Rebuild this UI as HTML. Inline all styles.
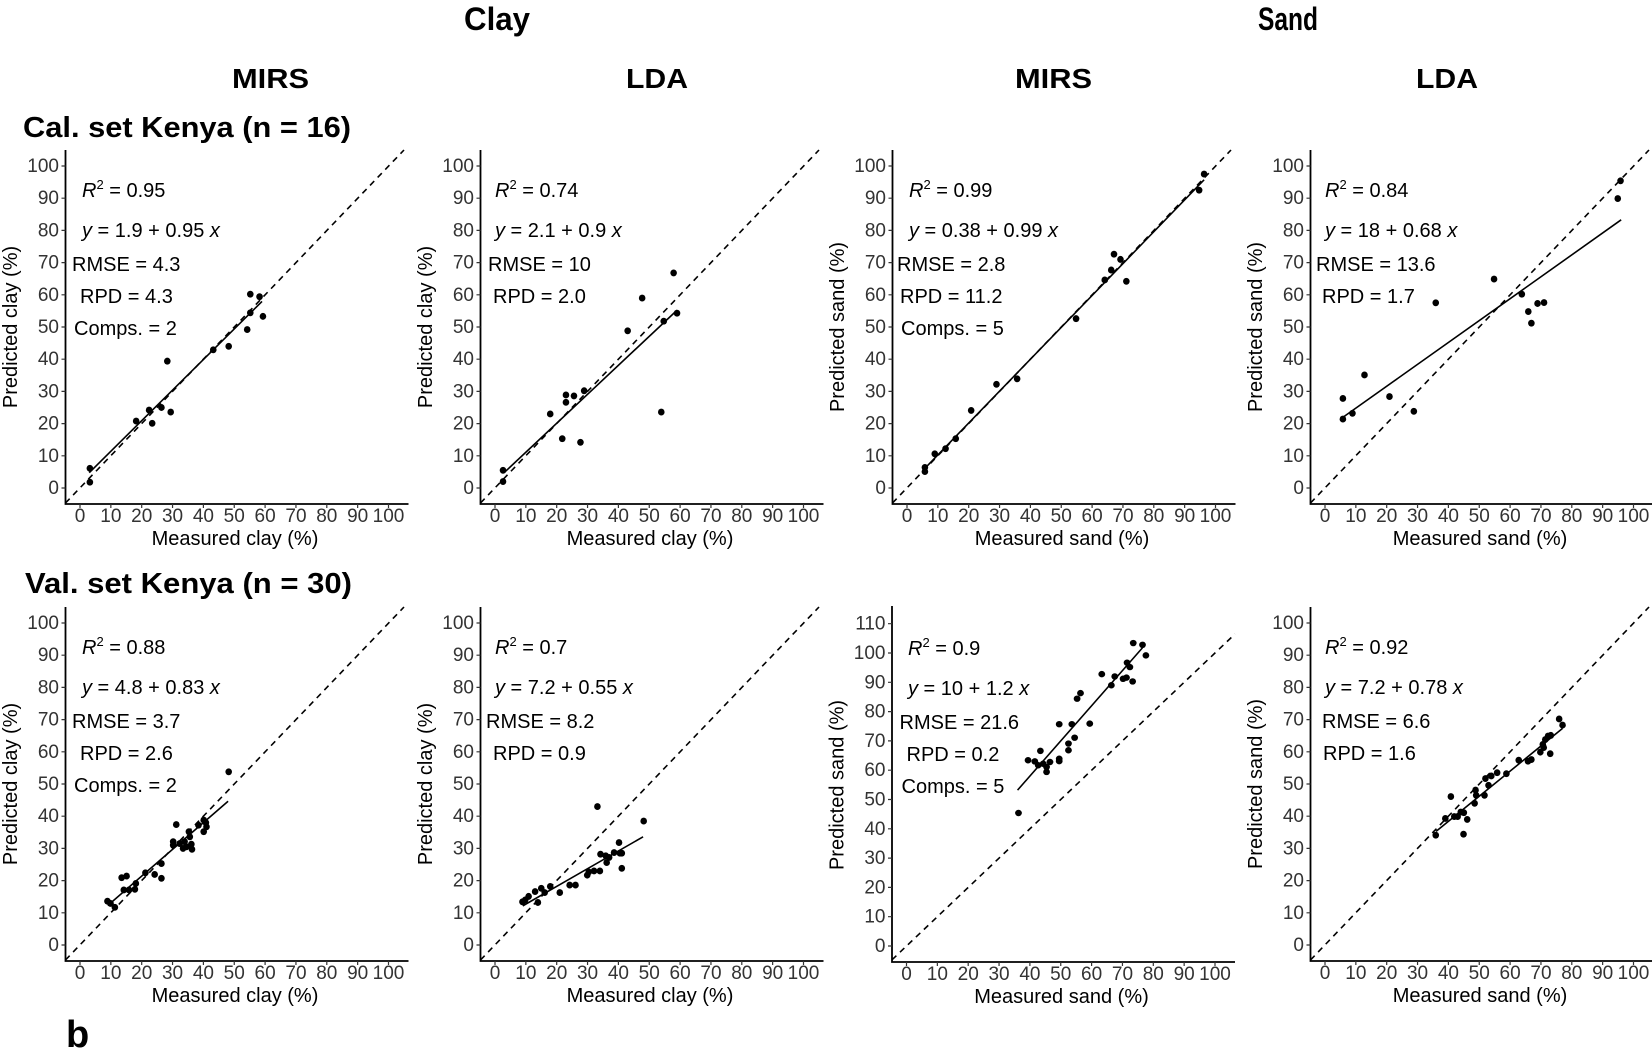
<!DOCTYPE html>
<html><head><meta charset="utf-8"><style>
html,body{margin:0;padding:0;background:#fff;}
svg{display:block;font-family:"Liberation Sans",Arial,sans-serif;}
.ax{fill:none;stroke:#000;stroke-width:1.8}
.tk{fill:none;stroke:#333;stroke-width:1.2}
.yl{font-size:19px;fill:#333;text-anchor:end}
.xl{font-size:19px;fill:#333;text-anchor:middle}
.tt{font-size:20px;fill:#000}
.an{font-size:20px;fill:#000}
.dl{fill:none;stroke:#000;stroke-width:1.6;stroke-dasharray:6 5}
.rl{stroke:#000;stroke-width:1.6;vector-effect:non-scaling-stroke}
.pt circle{fill:#000}
.hd{font-weight:bold;fill:#000}
</style></head><body>
<svg width="1652" height="1053" viewBox="0 0 1652 1053" xmlns="http://www.w3.org/2000/svg">
<rect width="1652" height="1053" fill="#fff"/>
<text class="hd" x="464" y="30" font-size="32" textLength="66" lengthAdjust="spacingAndGlyphs">Clay</text>
<text class="hd" x="1258" y="30" font-size="32" textLength="60" lengthAdjust="spacingAndGlyphs">Sand</text>
<text class="hd" x="232" y="88" font-size="28" textLength="77" lengthAdjust="spacingAndGlyphs">MIRS</text>
<text class="hd" x="626" y="88" font-size="28" textLength="62" lengthAdjust="spacingAndGlyphs">LDA</text>
<text class="hd" x="1015" y="88" font-size="28" textLength="77" lengthAdjust="spacingAndGlyphs">MIRS</text>
<text class="hd" x="1416" y="88" font-size="28" textLength="62" lengthAdjust="spacingAndGlyphs">LDA</text>
<text class="hd" x="23" y="137" font-size="29" textLength="328" lengthAdjust="spacingAndGlyphs">Cal. set Kenya (n = 16)</text>
<text class="hd" x="25" y="593" font-size="29" textLength="327" lengthAdjust="spacingAndGlyphs">Val. set Kenya (n = 30)</text>
<text class="hd" x="66" y="1047" font-size="38">b</text>

<!-- ============ P1 ============ -->
<g transform="translate(80,488)">
<path class="ax" d="M-14.5,-338V16H328.5"/>
<path class="tk" d="M-18.5,0h4M-18.5,-32.2h4M-18.5,-64.4h4M-18.5,-96.6h4M-18.5,-128.8h4M-18.5,-161h4M-18.5,-193.2h4M-18.5,-225.4h4M-18.5,-257.6h4M-18.5,-289.8h4M-18.5,-322h4M0,16v4M30.85,16v4M61.7,16v4M92.55,16v4M123.4,16v4M154.25,16v4M185.1,16v4M215.95,16v4M246.8,16v4M277.65,16v4M308.5,16v4"/>
<text class="yl" x="-21" y="6">0</text><text class="yl" x="-21" y="-26.2">10</text><text class="yl" x="-21" y="-58.4">20</text><text class="yl" x="-21" y="-90.6">30</text><text class="yl" x="-21" y="-122.8">40</text><text class="yl" x="-21" y="-155">50</text><text class="yl" x="-21" y="-187.2">60</text><text class="yl" x="-21" y="-219.4">70</text><text class="yl" x="-21" y="-251.6">80</text><text class="yl" x="-21" y="-283.8">90</text><text class="yl" x="-21" y="-316">100</text>
<text class="xl" x="0" y="34">0</text><text class="xl" x="30.85" y="34">10</text><text class="xl" x="61.7" y="34">20</text><text class="xl" x="92.55" y="34">30</text><text class="xl" x="123.4" y="34">40</text><text class="xl" x="154.25" y="34">50</text><text class="xl" x="185.1" y="34">60</text><text class="xl" x="215.95" y="34">70</text><text class="xl" x="246.8" y="34">80</text><text class="xl" x="277.65" y="34">90</text><text class="xl" x="308.5" y="34">100</text>
<text class="tt" x="155" y="57" text-anchor="middle">Measured clay (%)</text>
<text class="tt" transform="translate(-63,-161) rotate(-90)" text-anchor="middle">Predicted clay (%)</text>
<path class="dl" d="M-14.5,15L324,-338"/>
<text class="an" x="2" y="-291"><tspan font-style="italic">R</tspan><tspan font-size="13" dy="-8">2</tspan><tspan dy="8"> = 0.95</tspan></text>
<text class="an" x="2" y="-251"><tspan font-style="italic">y</tspan> = 1.9 + 0.95 <tspan font-style="italic">x</tspan></text>
<text class="an" x="-8" y="-217">RMSE = 4.3</text>
<text class="an" x="0" y="-185">RPD = 4.3</text>
<text class="an" x="-6" y="-153">Comps. = 2</text>
<g class="pt" transform="scale(3.085,-3.22)">
<line class="rl" x1="3" y1="4.75" x2="59" y2="57.95"/>
<circle cx="3.2" cy="6.1" r="1.07"/><circle cx="3.2" cy="1.8" r="1.07"/><circle cx="18.2" cy="20.8" r="1.07"/><circle cx="22.4" cy="24.2" r="1.07"/><circle cx="23.4" cy="20.1" r="1.07"/><circle cx="26.4" cy="25" r="1.07"/><circle cx="28.3" cy="39.4" r="1.07"/><circle cx="29.4" cy="23.6" r="1.07"/><circle cx="43.2" cy="42.9" r="1.07"/><circle cx="48.2" cy="44" r="1.07"/><circle cx="54.2" cy="49.2" r="1.07"/><circle cx="55.2" cy="60.2" r="1.07"/><circle cx="55.2" cy="54.4" r="1.07"/><circle cx="58.2" cy="59.4" r="1.07"/><circle cx="59.3" cy="53.3" r="1.07"/>
</g>
</g>

<!-- ============ P2 ============ -->
<g transform="translate(495,488)">
<path class="ax" d="M-14.5,-338V16H328.5"/>
<path class="tk" d="M-18.5,0h4M-18.5,-32.2h4M-18.5,-64.4h4M-18.5,-96.6h4M-18.5,-128.8h4M-18.5,-161h4M-18.5,-193.2h4M-18.5,-225.4h4M-18.5,-257.6h4M-18.5,-289.8h4M-18.5,-322h4M0,16v4M30.85,16v4M61.7,16v4M92.55,16v4M123.4,16v4M154.25,16v4M185.1,16v4M215.95,16v4M246.8,16v4M277.65,16v4M308.5,16v4"/>
<text class="yl" x="-21" y="6">0</text><text class="yl" x="-21" y="-26.2">10</text><text class="yl" x="-21" y="-58.4">20</text><text class="yl" x="-21" y="-90.6">30</text><text class="yl" x="-21" y="-122.8">40</text><text class="yl" x="-21" y="-155">50</text><text class="yl" x="-21" y="-187.2">60</text><text class="yl" x="-21" y="-219.4">70</text><text class="yl" x="-21" y="-251.6">80</text><text class="yl" x="-21" y="-283.8">90</text><text class="yl" x="-21" y="-316">100</text>
<text class="xl" x="0" y="34">0</text><text class="xl" x="30.85" y="34">10</text><text class="xl" x="61.7" y="34">20</text><text class="xl" x="92.55" y="34">30</text><text class="xl" x="123.4" y="34">40</text><text class="xl" x="154.25" y="34">50</text><text class="xl" x="185.1" y="34">60</text><text class="xl" x="215.95" y="34">70</text><text class="xl" x="246.8" y="34">80</text><text class="xl" x="277.65" y="34">90</text><text class="xl" x="308.5" y="34">100</text>
<text class="tt" x="155" y="57" text-anchor="middle">Measured clay (%)</text>
<text class="tt" transform="translate(-63,-161) rotate(-90)" text-anchor="middle">Predicted clay (%)</text>
<path class="dl" d="M-14.5,15L324,-338"/>
<text class="an" x="0" y="-291"><tspan font-style="italic">R</tspan><tspan font-size="13" dy="-8">2</tspan><tspan dy="8"> = 0.74</tspan></text>
<text class="an" x="0" y="-251"><tspan font-style="italic">y</tspan> = 2.1 + 0.9 <tspan font-style="italic">x</tspan></text>
<text class="an" x="-7" y="-217">RMSE = 10</text>
<text class="an" x="-2" y="-185">RPD = 2.0</text>
<g class="pt" transform="scale(3.085,-3.22)">
<line class="rl" x1="3" y1="4.8" x2="59" y2="55.2"/>
<circle cx="2.6" cy="5.5" r="1.07"/><circle cx="2.6" cy="2" r="1.07"/><circle cx="17.9" cy="23" r="1.07"/><circle cx="21.8" cy="15.3" r="1.07"/><circle cx="23" cy="28.9" r="1.07"/><circle cx="23" cy="26.6" r="1.07"/><circle cx="25.6" cy="28.6" r="1.07"/><circle cx="27.7" cy="14.2" r="1.07"/><circle cx="28.9" cy="30.2" r="1.07"/><circle cx="43" cy="48.8" r="1.07"/><circle cx="47.7" cy="59" r="1.07"/><circle cx="53.9" cy="23.6" r="1.07"/><circle cx="54.7" cy="51.8" r="1.07"/><circle cx="57.9" cy="66.8" r="1.07"/><circle cx="59" cy="54.3" r="1.07"/>
</g>
</g>

<!-- ============ P3 ============ -->
<g transform="translate(907,488)">
<path class="ax" d="M-14.5,-338V16H328.5"/>
<path class="tk" d="M-18.5,0h4M-18.5,-32.2h4M-18.5,-64.4h4M-18.5,-96.6h4M-18.5,-128.8h4M-18.5,-161h4M-18.5,-193.2h4M-18.5,-225.4h4M-18.5,-257.6h4M-18.5,-289.8h4M-18.5,-322h4M0,16v4M30.85,16v4M61.7,16v4M92.55,16v4M123.4,16v4M154.25,16v4M185.1,16v4M215.95,16v4M246.8,16v4M277.65,16v4M308.5,16v4"/>
<text class="yl" x="-21" y="6">0</text><text class="yl" x="-21" y="-26.2">10</text><text class="yl" x="-21" y="-58.4">20</text><text class="yl" x="-21" y="-90.6">30</text><text class="yl" x="-21" y="-122.8">40</text><text class="yl" x="-21" y="-155">50</text><text class="yl" x="-21" y="-187.2">60</text><text class="yl" x="-21" y="-219.4">70</text><text class="yl" x="-21" y="-251.6">80</text><text class="yl" x="-21" y="-283.8">90</text><text class="yl" x="-21" y="-316">100</text>
<text class="xl" x="0" y="34">0</text><text class="xl" x="30.85" y="34">10</text><text class="xl" x="61.7" y="34">20</text><text class="xl" x="92.55" y="34">30</text><text class="xl" x="123.4" y="34">40</text><text class="xl" x="154.25" y="34">50</text><text class="xl" x="185.1" y="34">60</text><text class="xl" x="215.95" y="34">70</text><text class="xl" x="246.8" y="34">80</text><text class="xl" x="277.65" y="34">90</text><text class="xl" x="308.5" y="34">100</text>
<text class="tt" x="155" y="57" text-anchor="middle">Measured sand (%)</text>
<text class="tt" transform="translate(-63,-161) rotate(-90)" text-anchor="middle">Predicted sand (%)</text>
<path class="dl" d="M-14.5,15L324,-338"/>
<text class="an" x="2" y="-291"><tspan font-style="italic">R</tspan><tspan font-size="13" dy="-8">2</tspan><tspan dy="8"> = 0.99</tspan></text>
<text class="an" x="2" y="-251"><tspan font-style="italic">y</tspan> = 0.38 + 0.99 <tspan font-style="italic">x</tspan></text>
<text class="an" x="-10" y="-217">RMSE = 2.8</text>
<text class="an" x="-7" y="-185">RPD = 11.2</text>
<text class="an" x="-6" y="-153">Comps. = 5</text>
<g class="pt" transform="scale(3.085,-3.22)">
<line class="rl" x1="5.8" y1="6.12" x2="96.3" y2="95.72"/>
<circle cx="5.8" cy="5.1" r="1.07"/><circle cx="5.8" cy="6.4" r="1.07"/><circle cx="9" cy="10.6" r="1.07"/><circle cx="12.5" cy="12.2" r="1.07"/><circle cx="15.8" cy="15.3" r="1.07"/><circle cx="20.8" cy="24.1" r="1.07"/><circle cx="29" cy="32.2" r="1.07"/><circle cx="35.7" cy="33.9" r="1.07"/><circle cx="54.8" cy="52.6" r="1.07"/><circle cx="64.1" cy="64.6" r="1.07"/><circle cx="66.2" cy="67.7" r="1.07"/><circle cx="67.1" cy="72.6" r="1.07"/><circle cx="69.2" cy="71" r="1.07"/><circle cx="71.1" cy="64.2" r="1.07"/><circle cx="94.7" cy="92.5" r="1.07"/><circle cx="96.3" cy="97.5" r="1.07"/>
</g>
</g>

<!-- ============ P4 ============ -->
<g transform="translate(1325,488)">
<path class="ax" d="M-14.5,-338V16H328.5"/>
<path class="tk" d="M-18.5,0h4M-18.5,-32.2h4M-18.5,-64.4h4M-18.5,-96.6h4M-18.5,-128.8h4M-18.5,-161h4M-18.5,-193.2h4M-18.5,-225.4h4M-18.5,-257.6h4M-18.5,-289.8h4M-18.5,-322h4M0,16v4M30.85,16v4M61.7,16v4M92.55,16v4M123.4,16v4M154.25,16v4M185.1,16v4M215.95,16v4M246.8,16v4M277.65,16v4M308.5,16v4"/>
<text class="yl" x="-21" y="6">0</text><text class="yl" x="-21" y="-26.2">10</text><text class="yl" x="-21" y="-58.4">20</text><text class="yl" x="-21" y="-90.6">30</text><text class="yl" x="-21" y="-122.8">40</text><text class="yl" x="-21" y="-155">50</text><text class="yl" x="-21" y="-187.2">60</text><text class="yl" x="-21" y="-219.4">70</text><text class="yl" x="-21" y="-251.6">80</text><text class="yl" x="-21" y="-283.8">90</text><text class="yl" x="-21" y="-316">100</text>
<text class="xl" x="0" y="34">0</text><text class="xl" x="30.85" y="34">10</text><text class="xl" x="61.7" y="34">20</text><text class="xl" x="92.55" y="34">30</text><text class="xl" x="123.4" y="34">40</text><text class="xl" x="154.25" y="34">50</text><text class="xl" x="185.1" y="34">60</text><text class="xl" x="215.95" y="34">70</text><text class="xl" x="246.8" y="34">80</text><text class="xl" x="277.65" y="34">90</text><text class="xl" x="308.5" y="34">100</text>
<text class="tt" x="155" y="57" text-anchor="middle">Measured sand (%)</text>
<text class="tt" transform="translate(-63,-161) rotate(-90)" text-anchor="middle">Predicted sand (%)</text>
<path class="dl" d="M-14.5,15L324,-338"/>
<text class="an" x="0" y="-291"><tspan font-style="italic">R</tspan><tspan font-size="13" dy="-8">2</tspan><tspan dy="8"> = 0.84</tspan></text>
<text class="an" x="0" y="-251"><tspan font-style="italic">y</tspan> = 18 + 0.68 <tspan font-style="italic">x</tspan></text>
<text class="an" x="-9" y="-217">RMSE = 13.6</text>
<text class="an" x="-3" y="-185">RPD = 1.7</text>
<g class="pt" transform="scale(3.085,-3.22)">
<line class="rl" x1="6" y1="22.08" x2="96" y2="83.28"/>
<circle cx="5.8" cy="27.8" r="1.07"/><circle cx="5.8" cy="21.4" r="1.07"/><circle cx="8.9" cy="23.2" r="1.07"/><circle cx="12.8" cy="35.1" r="1.07"/><circle cx="20.9" cy="28.4" r="1.07"/><circle cx="28.8" cy="23.8" r="1.07"/><circle cx="35.9" cy="57.5" r="1.07"/><circle cx="54.8" cy="64.9" r="1.07"/><circle cx="63.8" cy="60.2" r="1.07"/><circle cx="65.9" cy="54.8" r="1.07"/><circle cx="66.9" cy="51.2" r="1.07"/><circle cx="68.9" cy="57.3" r="1.07"/><circle cx="71" cy="57.6" r="1.07"/><circle cx="94.9" cy="89.9" r="1.07"/><circle cx="95.8" cy="95.4" r="1.07"/>
</g>
</g>

<!-- ============ P5 ============ -->
<g transform="translate(80,945)">
<path class="ax" d="M-14.5,-338V16H328.5"/>
<path class="tk" d="M-18.5,0h4M-18.5,-32.2h4M-18.5,-64.4h4M-18.5,-96.6h4M-18.5,-128.8h4M-18.5,-161h4M-18.5,-193.2h4M-18.5,-225.4h4M-18.5,-257.6h4M-18.5,-289.8h4M-18.5,-322h4M0,16v4M30.85,16v4M61.7,16v4M92.55,16v4M123.4,16v4M154.25,16v4M185.1,16v4M215.95,16v4M246.8,16v4M277.65,16v4M308.5,16v4"/>
<text class="yl" x="-21" y="6">0</text><text class="yl" x="-21" y="-26.2">10</text><text class="yl" x="-21" y="-58.4">20</text><text class="yl" x="-21" y="-90.6">30</text><text class="yl" x="-21" y="-122.8">40</text><text class="yl" x="-21" y="-155">50</text><text class="yl" x="-21" y="-187.2">60</text><text class="yl" x="-21" y="-219.4">70</text><text class="yl" x="-21" y="-251.6">80</text><text class="yl" x="-21" y="-283.8">90</text><text class="yl" x="-21" y="-316">100</text>
<text class="xl" x="0" y="34">0</text><text class="xl" x="30.85" y="34">10</text><text class="xl" x="61.7" y="34">20</text><text class="xl" x="92.55" y="34">30</text><text class="xl" x="123.4" y="34">40</text><text class="xl" x="154.25" y="34">50</text><text class="xl" x="185.1" y="34">60</text><text class="xl" x="215.95" y="34">70</text><text class="xl" x="246.8" y="34">80</text><text class="xl" x="277.65" y="34">90</text><text class="xl" x="308.5" y="34">100</text>
<text class="tt" x="155" y="57" text-anchor="middle">Measured clay (%)</text>
<text class="tt" transform="translate(-63,-161) rotate(-90)" text-anchor="middle">Predicted clay (%)</text>
<path class="dl" d="M-14.5,15L324,-338"/>
<text class="an" x="2" y="-291"><tspan font-style="italic">R</tspan><tspan font-size="13" dy="-8">2</tspan><tspan dy="8"> = 0.88</tspan></text>
<text class="an" x="2" y="-251"><tspan font-style="italic">y</tspan> = 4.8 + 0.83 <tspan font-style="italic">x</tspan></text>
<text class="an" x="-8" y="-217">RMSE = 3.7</text>
<text class="an" x="0" y="-185">RPD = 2.6</text>
<text class="an" x="-6" y="-153">Comps. = 2</text>
<g class="pt" transform="scale(3.085,-3.22)">
<line class="rl" x1="9" y1="12.27" x2="48" y2="44.64"/>
<circle cx="8.9" cy="13.6" r="1.07"/><circle cx="9.9" cy="12.9" r="1.07"/><circle cx="11.3" cy="11.7" r="1.07"/><circle cx="13.5" cy="20.9" r="1.07"/><circle cx="15.1" cy="21.4" r="1.07"/><circle cx="14.2" cy="17.1" r="1.07"/><circle cx="15.9" cy="17.1" r="1.07"/><circle cx="17.8" cy="17.3" r="1.07"/><circle cx="18.1" cy="19.1" r="1.07"/><circle cx="21.2" cy="22.4" r="1.07"/><circle cx="24.2" cy="21.9" r="1.07"/><circle cx="26.4" cy="20.7" r="1.07"/><circle cx="26.4" cy="25.3" r="1.07"/><circle cx="30.2" cy="32.1" r="1.07"/><circle cx="30.2" cy="31" r="1.07"/><circle cx="31.2" cy="37.4" r="1.07"/><circle cx="32.3" cy="31.5" r="1.07"/><circle cx="33.4" cy="30" r="1.07"/><circle cx="34.5" cy="30.5" r="1.07"/><circle cx="35.3" cy="35.2" r="1.07"/><circle cx="36.1" cy="31.3" r="1.07"/><circle cx="36.3" cy="29.7" r="1.07"/><circle cx="38.4" cy="37.2" r="1.07"/><circle cx="40.1" cy="38.8" r="1.07"/><circle cx="40.1" cy="35.2" r="1.07"/><circle cx="41" cy="36.7" r="1.07"/><circle cx="48.2" cy="53.8" r="1.07"/><circle cx="33.9" cy="32.1" r="1.07"/><circle cx="35.6" cy="33.6" r="1.07"/><circle cx="40.8" cy="38" r="1.07"/>
</g>
</g>

<!-- ============ P6 ============ -->
<g transform="translate(495,945)">
<path class="ax" d="M-14.5,-338V16H328.5"/>
<path class="tk" d="M-18.5,0h4M-18.5,-32.2h4M-18.5,-64.4h4M-18.5,-96.6h4M-18.5,-128.8h4M-18.5,-161h4M-18.5,-193.2h4M-18.5,-225.4h4M-18.5,-257.6h4M-18.5,-289.8h4M-18.5,-322h4M0,16v4M30.85,16v4M61.7,16v4M92.55,16v4M123.4,16v4M154.25,16v4M185.1,16v4M215.95,16v4M246.8,16v4M277.65,16v4M308.5,16v4"/>
<text class="yl" x="-21" y="6">0</text><text class="yl" x="-21" y="-26.2">10</text><text class="yl" x="-21" y="-58.4">20</text><text class="yl" x="-21" y="-90.6">30</text><text class="yl" x="-21" y="-122.8">40</text><text class="yl" x="-21" y="-155">50</text><text class="yl" x="-21" y="-187.2">60</text><text class="yl" x="-21" y="-219.4">70</text><text class="yl" x="-21" y="-251.6">80</text><text class="yl" x="-21" y="-283.8">90</text><text class="yl" x="-21" y="-316">100</text>
<text class="xl" x="0" y="34">0</text><text class="xl" x="30.85" y="34">10</text><text class="xl" x="61.7" y="34">20</text><text class="xl" x="92.55" y="34">30</text><text class="xl" x="123.4" y="34">40</text><text class="xl" x="154.25" y="34">50</text><text class="xl" x="185.1" y="34">60</text><text class="xl" x="215.95" y="34">70</text><text class="xl" x="246.8" y="34">80</text><text class="xl" x="277.65" y="34">90</text><text class="xl" x="308.5" y="34">100</text>
<text class="tt" x="155" y="57" text-anchor="middle">Measured clay (%)</text>
<text class="tt" transform="translate(-63,-161) rotate(-90)" text-anchor="middle">Predicted clay (%)</text>
<path class="dl" d="M-14.5,15L324,-338"/>
<text class="an" x="0" y="-291"><tspan font-style="italic">R</tspan><tspan font-size="13" dy="-8">2</tspan><tspan dy="8"> = 0.7</tspan></text>
<text class="an" x="0" y="-251"><tspan font-style="italic">y</tspan> = 7.2 + 0.55 <tspan font-style="italic">x</tspan></text>
<text class="an" x="-9" y="-217">RMSE = 8.2</text>
<text class="an" x="-2" y="-185">RPD = 0.9</text>
<g class="pt" transform="scale(3.085,-3.22)">
<line class="rl" x1="9" y1="12.15" x2="48" y2="33.6"/>
<circle cx="8.9" cy="13.4" r="1.07"/><circle cx="9.8" cy="14" r="1.07"/><circle cx="10.9" cy="15.1" r="1.07"/><circle cx="13" cy="16.6" r="1.07"/><circle cx="13.9" cy="13.2" r="1.07"/><circle cx="15" cy="17.6" r="1.07"/><circle cx="16.1" cy="16.3" r="1.07"/><circle cx="17.9" cy="18.2" r="1.07"/><circle cx="21" cy="16.3" r="1.07"/><circle cx="24.2" cy="18.6" r="1.07"/><circle cx="26.1" cy="18.6" r="1.07"/><circle cx="29.9" cy="21.7" r="1.07"/><circle cx="30.4" cy="22.7" r="1.07"/><circle cx="32.1" cy="23" r="1.07"/><circle cx="34" cy="23" r="1.07"/><circle cx="33.2" cy="43" r="1.07"/><circle cx="34.2" cy="28.2" r="1.07"/><circle cx="35.9" cy="27.7" r="1.07"/><circle cx="36.2" cy="25.6" r="1.07"/><circle cx="37" cy="27.2" r="1.07"/><circle cx="38.6" cy="28.7" r="1.07"/><circle cx="40.2" cy="31.8" r="1.07"/><circle cx="40.5" cy="28.5" r="1.07"/><circle cx="41.1" cy="23.8" r="1.07"/><circle cx="41.1" cy="28.5" r="1.07"/><circle cx="48.2" cy="38.5" r="1.07"/>
</g>
</g>

<!-- ============ P7 ============ -->
<g transform="translate(906.5,946)">
<path class="ax" d="M-14.5,-340V16H328.5"/>
<path class="tk" d="M-18.5,0h4M-18.5,-29.3h4M-18.5,-58.6h4M-18.5,-87.9h4M-18.5,-117.2h4M-18.5,-146.5h4M-18.5,-175.8h4M-18.5,-205.1h4M-18.5,-234.4h4M-18.5,-263.7h4M-18.5,-293h4M-18.5,-322.3h4M0,16v4M30.85,16v4M61.7,16v4M92.55,16v4M123.4,16v4M154.25,16v4M185.1,16v4M215.95,16v4M246.8,16v4M277.65,16v4M308.5,16v4"/>
<text class="yl" x="-21" y="6">0</text><text class="yl" x="-21" y="-23.3">10</text><text class="yl" x="-21" y="-52.6">20</text><text class="yl" x="-21" y="-81.9">30</text><text class="yl" x="-21" y="-111.2">40</text><text class="yl" x="-21" y="-140.5">50</text><text class="yl" x="-21" y="-169.8">60</text><text class="yl" x="-21" y="-199.1">70</text><text class="yl" x="-21" y="-228.4">80</text><text class="yl" x="-21" y="-257.7">90</text><text class="yl" x="-21" y="-287">100</text><text class="yl" x="-21" y="-316.3">110</text>
<text class="xl" x="0" y="34">0</text><text class="xl" x="30.85" y="34">10</text><text class="xl" x="61.7" y="34">20</text><text class="xl" x="92.55" y="34">30</text><text class="xl" x="123.4" y="34">40</text><text class="xl" x="154.25" y="34">50</text><text class="xl" x="185.1" y="34">60</text><text class="xl" x="215.95" y="34">70</text><text class="xl" x="246.8" y="34">80</text><text class="xl" x="277.65" y="34">90</text><text class="xl" x="308.5" y="34">100</text>
<text class="tt" x="155" y="57" text-anchor="middle">Measured sand (%)</text>
<text class="tt" transform="translate(-63,-161) rotate(-90)" text-anchor="middle">Predicted sand (%)</text>
<path class="dl" d="M-14.5,13.8L328.5,-312"/>
<text class="an" x="1.5" y="-291"><tspan font-style="italic">R</tspan><tspan font-size="13" dy="-8">2</tspan><tspan dy="8"> = 0.9</tspan></text>
<text class="an" x="1.5" y="-251"><tspan font-style="italic">y</tspan> = 10 + 1.2 <tspan font-style="italic">x</tspan></text>
<text class="an" x="-7" y="-217">RMSE = 21.6</text>
<text class="an" x="0" y="-185">RPD = 0.2</text>
<text class="an" x="-5" y="-153">Comps. = 5</text>
<g class="pt" transform="scale(3.085,-2.93)">
<line class="rl" x1="36" y1="53.2" x2="76.5" y2="101.8"/>
<circle cx="36.3" cy="45.4" r="1.1"/><circle cx="39.4" cy="63.4" r="1.1"/><circle cx="41.6" cy="63" r="1.1"/><circle cx="43.4" cy="66.6" r="1.1"/><circle cx="42.7" cy="61.7" r="1.1"/><circle cx="44.3" cy="62.2" r="1.1"/><circle cx="45.4" cy="59.4" r="1.1"/><circle cx="45.4" cy="61.1" r="1.1"/><circle cx="46.5" cy="62.8" r="1.1"/><circle cx="49.5" cy="75.7" r="1.1"/><circle cx="49.5" cy="63.9" r="1.1"/><circle cx="49.5" cy="63.1" r="1.1"/><circle cx="52.5" cy="66.8" r="1.1"/><circle cx="52.5" cy="69.1" r="1.1"/><circle cx="53.6" cy="75.7" r="1.1"/><circle cx="54.5" cy="71.1" r="1.1"/><circle cx="55.3" cy="84.4" r="1.1"/><circle cx="56.4" cy="86.3" r="1.1"/><circle cx="59.4" cy="75.9" r="1.1"/><circle cx="63.3" cy="92.8" r="1.1"/><circle cx="66.4" cy="89" r="1.1"/><circle cx="67.5" cy="92" r="1.1"/><circle cx="70.2" cy="91.2" r="1.1"/><circle cx="71.3" cy="91.6" r="1.1"/><circle cx="71.5" cy="96.7" r="1.1"/><circle cx="72.4" cy="95.2" r="1.1"/><circle cx="73.3" cy="90.3" r="1.1"/><circle cx="73.5" cy="103.4" r="1.1"/><circle cx="76.5" cy="102.8" r="1.1"/><circle cx="77.6" cy="99.2" r="1.1"/>
</g>
</g>

<!-- ============ P8 ============ -->
<g transform="translate(1325,945)">
<path class="ax" d="M-14.5,-338V16H328.5"/>
<path class="tk" d="M-18.5,0h4M-18.5,-32.2h4M-18.5,-64.4h4M-18.5,-96.6h4M-18.5,-128.8h4M-18.5,-161h4M-18.5,-193.2h4M-18.5,-225.4h4M-18.5,-257.6h4M-18.5,-289.8h4M-18.5,-322h4M0,16v4M30.85,16v4M61.7,16v4M92.55,16v4M123.4,16v4M154.25,16v4M185.1,16v4M215.95,16v4M246.8,16v4M277.65,16v4M308.5,16v4"/>
<text class="yl" x="-21" y="6">0</text><text class="yl" x="-21" y="-26.2">10</text><text class="yl" x="-21" y="-58.4">20</text><text class="yl" x="-21" y="-90.6">30</text><text class="yl" x="-21" y="-122.8">40</text><text class="yl" x="-21" y="-155">50</text><text class="yl" x="-21" y="-187.2">60</text><text class="yl" x="-21" y="-219.4">70</text><text class="yl" x="-21" y="-251.6">80</text><text class="yl" x="-21" y="-283.8">90</text><text class="yl" x="-21" y="-316">100</text>
<text class="xl" x="0" y="34">0</text><text class="xl" x="30.85" y="34">10</text><text class="xl" x="61.7" y="34">20</text><text class="xl" x="92.55" y="34">30</text><text class="xl" x="123.4" y="34">40</text><text class="xl" x="154.25" y="34">50</text><text class="xl" x="185.1" y="34">60</text><text class="xl" x="215.95" y="34">70</text><text class="xl" x="246.8" y="34">80</text><text class="xl" x="277.65" y="34">90</text><text class="xl" x="308.5" y="34">100</text>
<text class="tt" x="155" y="57" text-anchor="middle">Measured sand (%)</text>
<text class="tt" transform="translate(-63,-161) rotate(-90)" text-anchor="middle">Predicted sand (%)</text>
<path class="dl" d="M-14.5,15L324,-338"/>
<text class="an" x="0" y="-291"><tspan font-style="italic">R</tspan><tspan font-size="13" dy="-8">2</tspan><tspan dy="8"> = 0.92</tspan></text>
<text class="an" x="0" y="-251"><tspan font-style="italic">y</tspan> = 7.2 + 0.78 <tspan font-style="italic">x</tspan></text>
<text class="an" x="-3" y="-217">RMSE = 6.6</text>
<text class="an" x="-2" y="-185">RPD = 1.6</text>
<g class="pt" transform="scale(3.085,-3.22)">
<line class="rl" x1="36" y1="35.28" x2="77" y2="67.26"/>
<circle cx="35.9" cy="34.1" r="1.07"/><circle cx="39" cy="39.3" r="1.07"/><circle cx="40.8" cy="46.1" r="1.07"/><circle cx="41.9" cy="39.9" r="1.07"/><circle cx="43" cy="39.9" r="1.07"/><circle cx="44" cy="41.3" r="1.07"/><circle cx="45" cy="41.1" r="1.07"/><circle cx="44.9" cy="34.4" r="1.07"/><circle cx="46.1" cy="39" r="1.07"/><circle cx="48.5" cy="44" r="1.07"/><circle cx="48.8" cy="48.1" r="1.07"/><circle cx="49" cy="46.5" r="1.07"/><circle cx="51.7" cy="46.5" r="1.07"/><circle cx="52" cy="51.7" r="1.07"/><circle cx="53" cy="49.6" r="1.07"/><circle cx="53.9" cy="52.5" r="1.07"/><circle cx="55.8" cy="53.5" r="1.07"/><circle cx="58.8" cy="53.2" r="1.07"/><circle cx="62.8" cy="57.4" r="1.07"/><circle cx="65.8" cy="57.1" r="1.07"/><circle cx="66.9" cy="57.6" r="1.07"/><circle cx="69.8" cy="59.9" r="1.07"/><circle cx="70.6" cy="62.3" r="1.07"/><circle cx="71.4" cy="63.8" r="1.07"/><circle cx="72.3" cy="64.9" r="1.07"/><circle cx="73" cy="59.4" r="1.07"/><circle cx="73.2" cy="65.1" r="1.07"/><circle cx="75.9" cy="70.2" r="1.07"/><circle cx="77" cy="68.3" r="1.07"/><circle cx="70.9" cy="61.3" r="1.07"/>
</g>
</g>
</svg>
</body></html>
